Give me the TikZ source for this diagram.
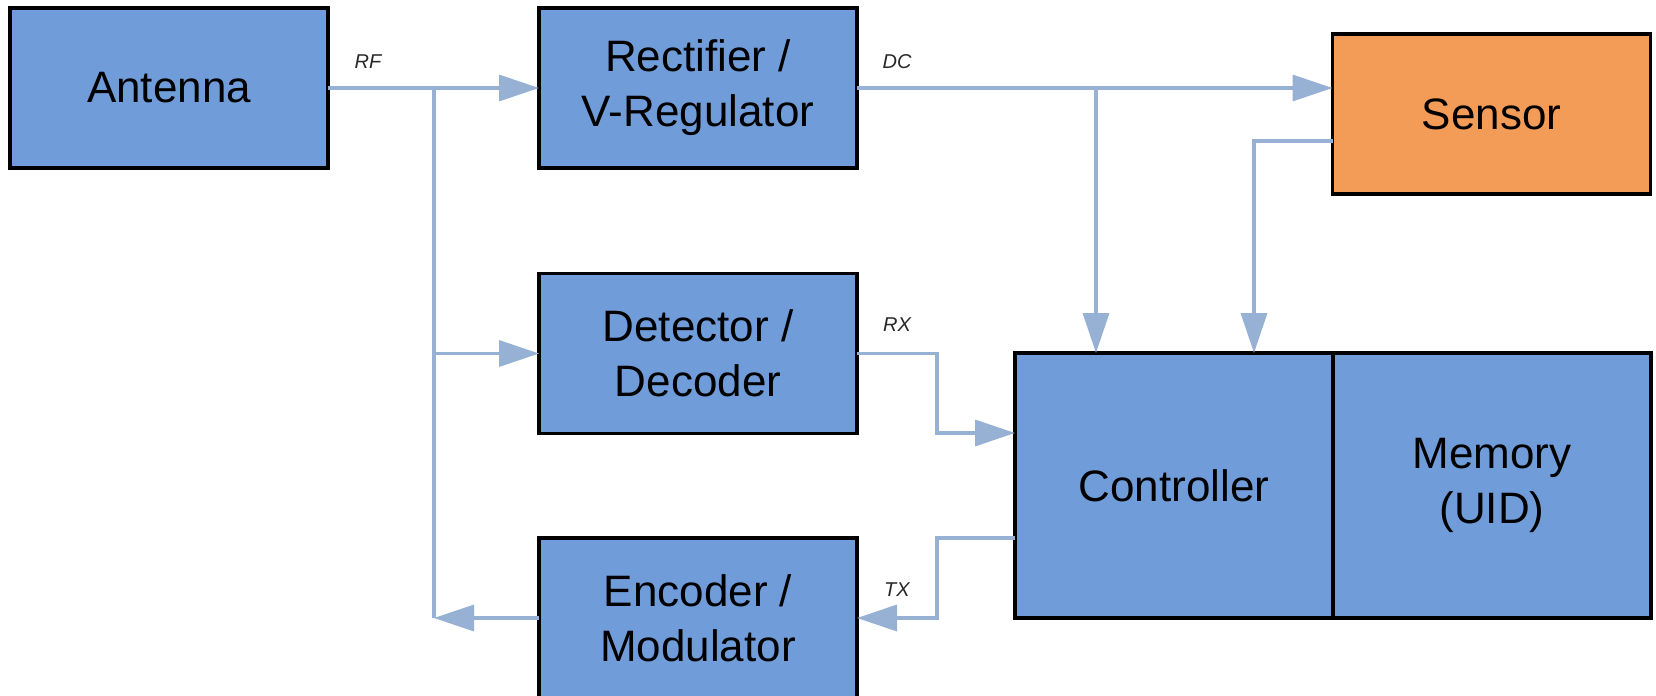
\documentclass[tikz,border=0pt]{standalone}
\usepackage{fontspec}
\setmainfont{Liberation Sans}
\usetikzlibrary{arrows.meta}
\definecolor{blockblue}{RGB}{112,157,217}
\definecolor{sensororange}{RGB}{243,156,87}
\definecolor{wirecol}{RGB}{150,177,211}
\definecolor{labelgray}{RGB}{40,40,40}
\begin{document}
\begin{tikzpicture}[x=0.5pt,y=-0.5pt,
  block/.style={draw=black,line width=1.6pt,fill=blockblue,
    minimum width=159pt,minimum height=80pt,inner sep=0pt,outer sep=0pt,
    align=center,text=black,font=\fontsize{22}{27.5}\selectfont},
  wire/.style={draw=wirecol,line width=1.75pt},
  arr/.style={wire,-{Triangle[length=20pt,width=13pt]}},
  sig/.style={text=labelgray,font=\fontsize{10}{12}\selectfont\itshape}]
\useasboundingbox (0,0) rectangle (1656,696);

% blocks
\node[block] (ant) at (169,88) {Antenna};
\node[block] (rect) at (698,88) {Rectifier /\\V-Regulator};
\node[block,fill=sensororange] (sens) at (1491.5,114) {Sensor};
\node[block] (det) at (698,353.5) {Detector /\\Decoder};
\node[block] (enc) at (698,618) {Encoder /\\Modulator};
\node[block,minimum height=132.5pt] (ctrl) at (1174,485.5) {Controller};
\node[block,minimum height=132.5pt] (mem) at (1492,485.5) {Memory\\(UID)};

% junction points
\coordinate (rfj) at (434,88);
\coordinate (rfb) at (rfj |- enc.west);
\coordinate (dcj) at ([xshift=-39pt]ctrl.north |- rect.east);

% RF path and its branches
\draw[arr] (ant.east) -- (rect.west);
\draw[wire] (rfj) -- (rfb);
\draw[arr] (rfj |- det.west) -- (det.west);
\draw[arr] (enc.west) -- (rfb);

% DC supply
\draw[arr] (rect.east) -- (sens.west |- rect.east);
\draw[arr] (dcj) -- ([xshift=-39pt]ctrl.north);

% sensor to controller
\draw[arr] ([yshift=-13.5pt]sens.west) -| ([xshift=40pt]ctrl.north);

% RX and TX
\draw[arr] (det.east) -- ++(40pt,0) |- ([yshift=26.25pt]ctrl.west);
\draw[arr] ([yshift=-26.25pt]ctrl.west) -- ++(-39pt,0) |- (enc.east);

% signal labels
\node[sig] (rf) at (368,62) {RF};
\node[sig] (dc) at (897,62) {DC};
\node[sig] (rx) at (897,325) {RX};
\node[sig] (tx) at (897,590) {TX};
\end{tikzpicture}
\end{document}
